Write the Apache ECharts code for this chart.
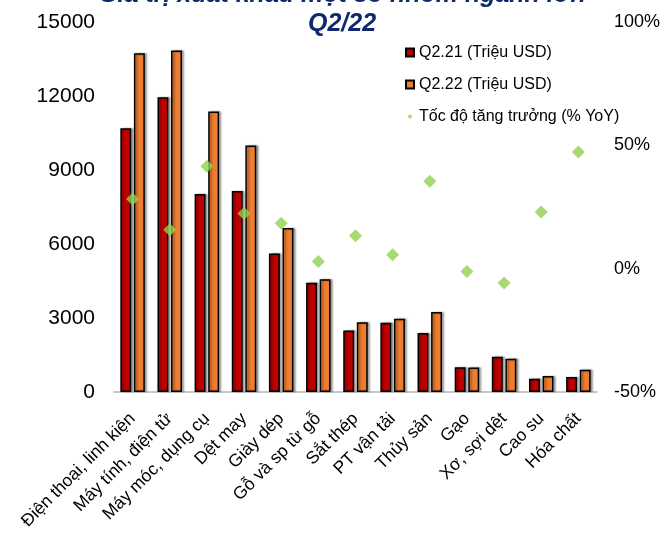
<!DOCTYPE html>
<html>
<head>
<meta charset="utf-8">
<script src="https://cdn.jsdelivr.net/npm/echarts@6/dist/echarts.min.js"></script>
<style>
  html, body { margin: 0; padding: 0; background: #fff; }
  #chart { width: 663px; height: 541px; }
</style>
</head>
<body>
<div id="chart"></div>
<script>
// Export value by product group, Q2 of 2021 vs Q2 of 2022
const categories = [
  'Điện thoại, linh kiện', 'Máy tính, điện tử', 'Máy móc, dụng cụ', 'Dệt may',
  'Giày dép', 'Gỗ và sp từ gỗ', 'Sắt thép', 'PT vận tải', 'Thủy sản',
  'Gạo', 'Xơ, sợi dệt', 'Cao su', 'Hóa chất'
];
const q221 = [10690, 11950, 8030, 8150, 5610, 4430, 2490, 2810, 2390, 1000, 1430, 540, 610];
const q222 = [13730, 13840, 11370, 9990, 6650, 4570, 2830, 2970, 3240, 990, 1350, 650, 905];
const growth = [28.2, 15.8, 41.5, 22.4, 18.4, 2.9, 13.3, 5.6, 35.4, -1.1, -5.8, 23.0, 47.3];
const leftTicks = [0, 3000, 6000, 9000, 12000, 15000];
const rightTicks = [-50, 0, 50, 100];

const names = ['Q2.21 (Triệu USD)', 'Q2.22 (Triệu USD)', 'Tốc độ tăng trưởng (% YoY)'];
const font = 'Liberation Sans, Arial, sans-serif';

const barStyle = (color) => ({
  color: color,
  borderColor: '#000',
  borderWidth: 1.5,
  shadowColor: 'rgba(0,0,0,0.35)',
  shadowBlur: 2,
  shadowOffsetX: 2,
  shadowOffsetY: 0
});

// small diamond centred inside a larger empty box, so the legend key stays small
const smallDiamond = 'path://M0,0M10,10M5,2L8,5L5,8L2,5Z';

const chart = echarts.init(document.getElementById('chart'), null, { renderer: 'canvas' });
chart.setOption({
  animation: false,
  backgroundColor: '#fff',
  textStyle: { fontFamily: font },
  title: {
    text: 'Giá trị xuất khẩu một số nhóm ngành lớn\nQ2/22',
    left: 337,
    top: -24,
    textAlign: 'center',
    textStyle: {
      fontFamily: font,
      fontSize: 25,
      fontWeight: 'bold',
      fontStyle: 'italic',
      color: '#0f2a6b',
      lineHeight: 29
    }
  },
  legend: {
    orient: 'vertical',
    left: 405,
    top: 44,
    padding: 0,
    itemGap: 15,
    itemWidth: 8,
    itemHeight: 8,
    textStyle: { fontFamily: font, fontSize: 16, color: '#000', lineHeight: 17 },
    data: [
      { name: names[0], icon: 'rect' },
      { name: names[1], icon: 'rect' },
      { name: names[2], icon: smallDiamond }
    ]
  },
  grid: { left: 114, right: 60, top: 22, bottom: 149 },
  xAxis: {
    type: 'category',
    data: categories,
    axisLine: { lineStyle: { color: '#c8c8c8', width: 2 } },
    axisTick: { show: false },
    axisLabel: {
      rotate: 45,
      interval: 0,
      fontFamily: font,
      fontSize: 17.5,
      color: '#000',
      margin: 24
    }
  },
  yAxis: [
    {
      type: 'value',
      min: leftTicks[0],
      max: leftTicks[leftTicks.length - 1],
      interval: 3000,
      splitLine: { show: false },
      axisLine: { show: false },
      axisTick: { show: false },
      axisLabel: {
        fontFamily: font, fontSize: 21, color: '#000', margin: 19,
        formatter: (v) => String(v)
      }
    },
    {
      type: 'value',
      min: rightTicks[0],
      max: rightTicks[rightTicks.length - 1],
      interval: 50,
      splitLine: { show: false },
      axisLine: { show: false },
      axisTick: { show: false },
      axisLabel: {
        fontFamily: font, fontSize: 18, color: '#000', margin: 17,
        formatter: (v) => v + '%'
      }
    }
  ],
  series: [
    {
      name: names[0],
      type: 'bar',
      data: q221,
      barGap: '24%',
      barCategoryGap: '34%',
      itemStyle: barStyle('#c00000')
    },
    {
      name: names[1],
      type: 'bar',
      data: q222,
      itemStyle: barStyle('#ed7d31')
    },
    {
      name: names[2],
      type: 'scatter',
      yAxisIndex: 1,
      data: growth,
      symbol: 'diamond',
      symbolSize: 13,
      itemStyle: { color: '#92d050' },
      z: 5
    }
  ]
});
</script>
</body>
</html>
